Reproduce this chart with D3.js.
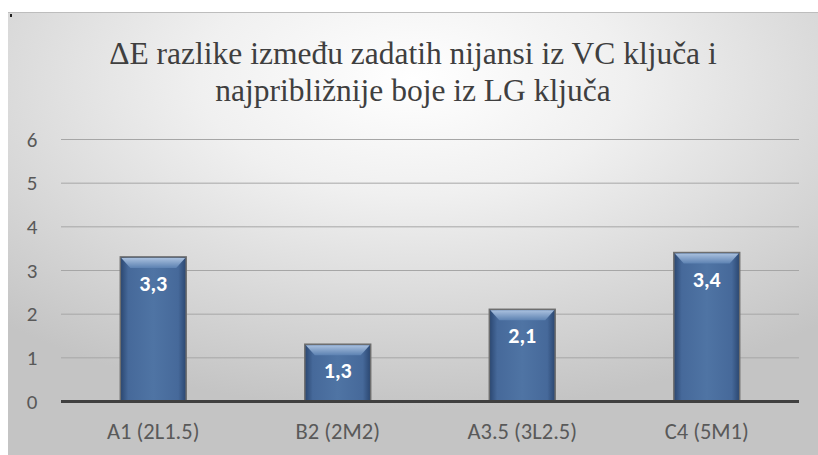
<!DOCTYPE html>
<html><head><meta charset="utf-8">
<script src="https://cdn.jsdelivr.net/npm/d3@7"></script>
<style>html,body{margin:0;padding:0;background:#fff;overflow:hidden}</style>
</head><body>
<svg id="c" width="818" height="455"></svg>
<script>
const categories = ["A1 (2L1.5)", "B2 (2M2)", "A3.5 (3L2.5)", "C4 (5M1)"];
const values = [3.3, 1.3, 2.1, 3.4];
const valueLabels = ["3,3", "1,3", "2,1", "3,4"];
const yTicks = [0, 1, 2, 3, 4, 5, 6];
const titleLines = ["ΔE razlike između zadatih nijansi iz VC ključa i", "najpribližnije boje iz LG ključa"];

const SERIF = "Liberation Serif";
const SANS = "Carlito";

const svg = d3.select("#c");
const defs = svg.append("defs");
const bg = defs.append("radialGradient").attr("id","bg").attr("cx","50%").attr("cy","15%").attr("r","75%").attr("fx","50%").attr("fy","15%");
bg.append("stop").attr("offset","0%").attr("stop-color","#ffffff");
bg.append("stop").attr("offset","35%").attr("stop-color","#f0f0f0");
bg.append("stop").attr("offset","100%").attr("stop-color","#c4c4c4");
const bar = defs.append("linearGradient").attr("id","bar").attr("x1","0").attr("x2","1").attr("y1","0").attr("y2","0");
[["0%","#2a4670"],["12%","#46699a"],["50%","#4f74a4"],["88%","#46699a"],["100%","#2a4670"]].forEach(s=>bar.append("stop").attr("offset",s[0]).attr("stop-color",s[1]));
const topG = defs.append("linearGradient").attr("id","top").attr("x1","0").attr("x2","0").attr("y1","0").attr("y2","1");
topG.append("stop").attr("offset","0%").attr("stop-color","#a9c0de");
topG.append("stop").attr("offset","100%").attr("stop-color","#5d82b2");

svg.append("rect").attr("x",8).attr("y",12).attr("width",810).attr("height",443).attr("fill","url(#bg)");
svg.append("line").attr("x1",8).attr("x2",818).attr("y1",12.5).attr("y2",12.5).attr("stroke","#bdbdbd");
svg.append("rect").attr("x",10).attr("y",14).attr("width",2).attr("height",3).attr("fill","#222");

const title = svg.append("text").attr("text-anchor","middle").style("font-family",SERIF).style("font-size","31.5px").attr("fill","#3f3f3f");
titleLines.forEach((t,i)=>title.append("tspan").attr("x",413).attr("y",64+i*37).text(t));

const x = d3.scaleBand().domain(categories).range([61,799]).paddingInner(0.643).paddingOuter(0.3215);
const y = d3.scaleLinear().domain([0,6]).range([401,139]);

const gy = svg.append("g").attr("transform","translate(61,0)")
  .call(d3.axisLeft(y).tickValues(yTicks).tickSize(-738).tickFormat(d3.format("d")));
gy.attr("font-family",null).attr("font-size",null);
gy.select(".domain").remove();
gy.selectAll(".tick line").attr("stroke","#a6a6a6").attr("stroke-width",1);
gy.selectAll(".tick text").attr("x",-29).attr("dy","0.34em").attr("text-anchor","middle").style("font-family",SANS).style("font-size","21px").attr("fill","#595959");

const bars = svg.append("g").selectAll("g").data(values).join("g");
bars.each(function(v,i){
  const g = d3.select(this);
  const x0 = x(categories[i]), w = x.bandwidth(), y0 = y(v), h = y(0)-y(v);
  g.append("rect").attr("x",x0).attr("y",y0).attr("width",w).attr("height",h).attr("fill","url(#bar)").attr("stroke","#6e6e6e").attr("stroke-width",1.5);
  const b = 10;
  g.append("path").attr("d",`M${x0+1},${y0+1}L${x0+w-1},${y0+1}L${x0+w-b},${y0+b+1}L${x0+b},${y0+b+1}Z`).attr("fill","url(#top)");
  g.append("text").attr("x",x0+w/2).attr("y",y0+34).attr("text-anchor","middle").style("font-family",SANS).style("font-weight","bold").style("font-size","22px").attr("fill","#ffffff").text(valueLabels[i]);
});

svg.append("line").attr("x1",61).attr("x2",799).attr("y1",y(0)+0.5).attr("y2",y(0)+0.5).attr("stroke","#404040").attr("stroke-width",3);

const gx = svg.append("g").attr("transform",`translate(0,${y(0)})`).call(d3.axisBottom(x).tickSize(0));
gx.attr("font-family",null).attr("font-size",null);
gx.select(".domain").remove();
gx.selectAll(".tick text").attr("dy",0).attr("y",38).style("font-family",SANS).style("font-size","22.5px").attr("fill","#595959");
</script>
</body></html>
